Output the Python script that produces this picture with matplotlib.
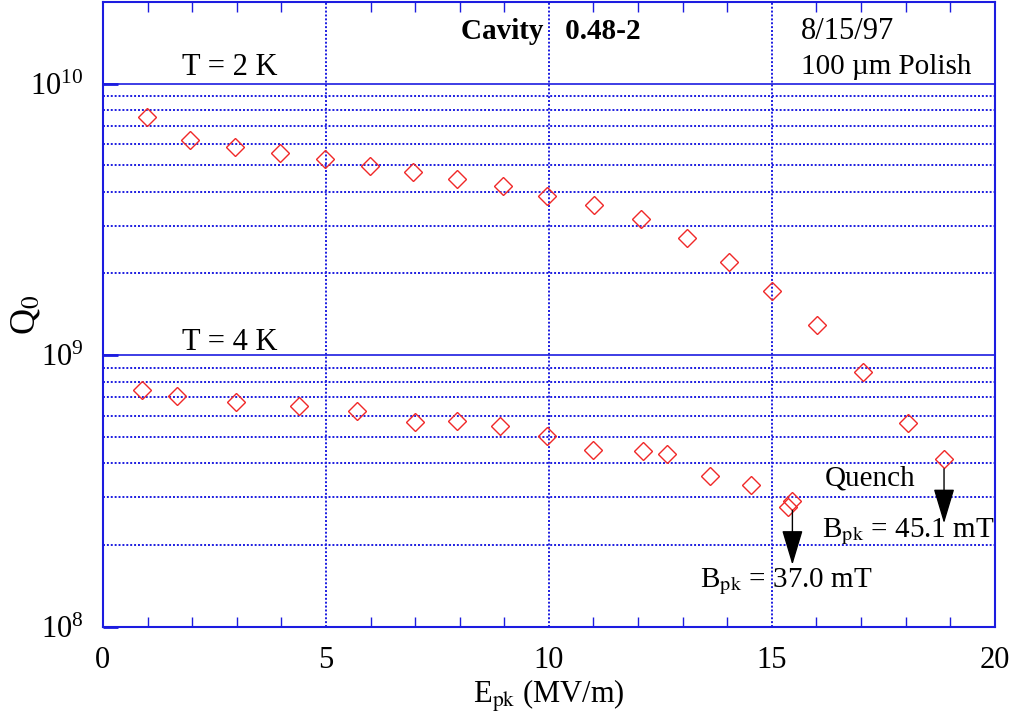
import numpy as np
import matplotlib
matplotlib.use("Agg")
import matplotlib.pyplot as plt
from matplotlib.ticker import LogLocator, MultipleLocator, NullFormatter

plt.rcParams["font.family"] = ["Liberation Serif", "DejaVu Serif"]
plt.rcParams["mathtext.fontset"] = "stix"

# Q0 vs Epk, T = 2 K
e_2k = [0.99, 1.95, 2.96, 3.97, 4.98, 5.99, 6.96, 7.94, 8.98, 9.96,
        11.01, 12.06, 13.09, 14.04, 15.01, 16.02, 17.05, 18.05, 18.86]
q_2k = [7.52e9, 6.22e9, 5.85e9, 5.56e9, 5.28e9, 4.99e9, 4.71e9, 4.46e9, 4.19e9, 3.87e9,
        3.56e9, 3.18e9, 2.69e9, 2.21e9, 1.72e9, 1.29e9, 8.67e8, 5.62e8, 4.15e8]

# Q0 vs Epk, T = 4 K
e_4k = [0.87, 1.67, 2.98, 4.40, 5.69, 7.00, 7.93, 8.90, 9.96, 10.99,
        12.11, 12.64, 13.62, 14.53, 15.37, 15.46]
q_4k = [7.46e8, 7.10e8, 6.74e8, 6.48e8, 6.21e8, 5.67e8, 5.74e8, 5.47e8, 5.05e8, 4.49e8,
        4.45e8, 4.34e8, 3.58e8, 3.33e8, 2.76e8, 2.92e8]

blue = "#1c1ce0"
red = "#f02828"

fig = plt.figure(figsize=(10.09, 7.27), dpi=100)
ax = fig.add_axes([0.102, 0.1376, 0.884, 0.86])

ax.plot(e_2k, q_2k, linestyle="none", marker="D", ms=9, mfc="none", mec=red, mew=1.0, zorder=3)
ax.plot(e_4k, q_4k, linestyle="none", marker="D", ms=9, mfc="none", mec=red, mew=1.0, zorder=3)

ax.set_yscale("log")
ax.set_xlim(0, 20)
ax.set_ylim(1e8, 2e10)

ax.xaxis.set_major_locator(MultipleLocator(5))
ax.xaxis.set_minor_locator(MultipleLocator(1))
ax.yaxis.set_major_locator(LogLocator(base=10))
ax.yaxis.set_minor_locator(LogLocator(base=10, subs=np.arange(2, 10)))
ax.yaxis.set_minor_formatter(NullFormatter())

ax.grid(which="major", axis="y", color=blue, linestyle="-", linewidth=1.2)
ax.grid(which="minor", axis="y", color=blue, linestyle=(0, (1, 1)), linewidth=1.4)
ax.grid(which="major", axis="x", color=blue, linestyle=(0, (1, 1)), linewidth=1.4)

ax.tick_params(which="both", direction="in", top=True, right=False, color=blue, labelsize=22)
ax.tick_params(axis="x", which="major", length=0, pad=14)
ax.tick_params(axis="x", which="minor", length=7, width=1.0)
ax.tick_params(axis="y", which="major", length=11, width=2, pad=14)
ax.tick_params(axis="y", which="minor", length=0)
for sp in ax.spines.values():
    sp.set_color(blue)
    sp.set_linewidth(1.5)

ax.set_xlabel(r"E$_{\rm pk}$ (MV/m)", fontsize=22, labelpad=2)
ax.set_ylabel(r"Q$_0$", fontsize=26, labelpad=0)
ax.yaxis.set_label_coords(-0.068, 0.5)

# annotations
ax.text(0.142, 0.895, "T = 2 K", transform=ax.transAxes, fontsize=22, ha="center", va="center")
ax.text(0.142, 0.455, "T = 4 K", transform=ax.transAxes, fontsize=22, ha="center", va="center")
ax.text(0.502, 0.952, "Cavity   0.48-2", transform=ax.transAxes, fontsize=21,
        fontweight="bold", ha="center", va="center")
ax.text(0.7825, 0.952, "8/15/97", transform=ax.transAxes, fontsize=22, ha="left", va="center")
ax.text(0.7825, 0.895, "100 µm Polish", transform=ax.transAxes, fontsize=21, ha="left", va="center")
ax.text(0.809, 0.237, "Quench", transform=ax.transAxes, fontsize=21, ha="left", va="center")
ax.text(0.806, 0.152, r"B$_{\rm pk}$ = 45.1 mT", transform=ax.transAxes, fontsize=21, ha="left", va="center")
ax.text(0.669, 0.072, r"B$_{\rm pk}$ = 37.0 mT", transform=ax.transAxes, fontsize=21, ha="left", va="center")

# quench arrows below the last point of each series
for ex, qy in [(e_2k[-1], q_2k[-1]), (e_4k[-1], q_4k[-1])]:
    ax.annotate("", xy=(ex, qy * 0.58), xytext=(ex, qy * 0.92),
                arrowprops=dict(arrowstyle="-|>,head_length=1.0,head_width=0.3",
                                color="black", lw=1.0, shrinkA=0, shrinkB=0,
                                mutation_scale=22),
                zorder=4)

fig.savefig("out.png", dpi=100)
